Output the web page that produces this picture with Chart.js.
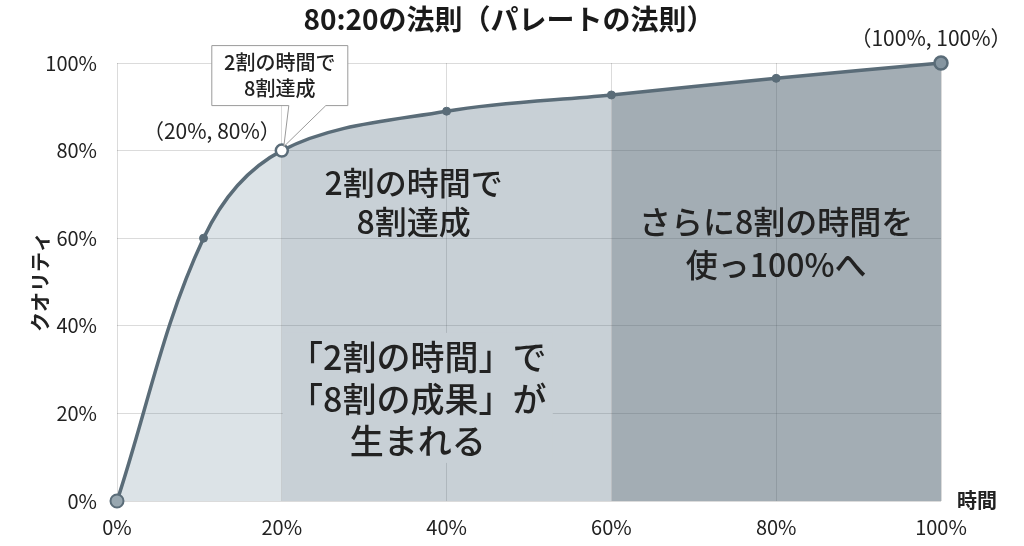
<!DOCTYPE html>
<html lang="ja">
<head>
<meta charset="utf-8">
<script src="https://cdn.jsdelivr.net/npm/chart.js@4.4.1/dist/chart.umd.min.js"></script>
<style>
html,body{margin:0;padding:0;background:#fff}
#wrap{width:1024px;height:546px}
</style>
</head>
<body>
<div id="wrap"><canvas id="pareto_chart"></canvas></div>
<script>
// data (x = 時間 %, y = クオリティ %)
const timeValues=[0,10.5,20,40,60,80,100]
const qualityValues=[0,60,80,89,92.7,96.5,100]
const tickValues=[0,20,40,60,80,100]

const titleText='80:20の法則（パレートの法則）'
const yTitle='クオリティ'
const xTitle='時間'
const calloutLines=['2割の時間で','8割達成']
const label20='（20%, 80%）'
const label100='（100%, 100%）'
const midLines=['2割の時間で','8割達成']
const rightLines=['さらに8割の時間を','使っ100%へ']
const bottomLines=['「2割の時間」で','「8割の成果」が','生まれる']

const FONT='"Noto Sans CJK JP","Noto Sans",sans-serif'
const lineColor='#5a6c78'

function segColor(x){
  if(x<20) return 'rgba(80,115,135,0.2)'
  if(x<60) return 'rgba(72,98,118,0.3)'
  return 'rgba(71,91,105,0.5)'
}

const textPlugin={
  id:'texts',
  afterDatasetsDraw(chart){
    const {ctx,chartArea,scales:{x,y}}=chart
    ctx.save()
    ctx.textAlign='center'
    ctx.textBaseline='middle'

    // title
    ctx.fillStyle='#1a1a1a'
    ctx.font='bold 28px '+FONT
    ctx.fillText(titleText,509,19)

    // big texts inside the areas
    ctx.fillStyle='#222'
    ctx.font='500 32px '+FONT
    midLines.forEach((t,i)=>ctx.fillText(t,x.getPixelForValue(36),y.getPixelForValue(72.6)+i*39))
    rightLines.forEach((t,i)=>ctx.fillText(t,x.getPixelForValue(80),y.getPixelForValue(63.7)+i*43))

    // patch behind the lower text hides the grid like in the picture
    const bx=x.getPixelForValue(36.5)
    const by=y.getPixelForValue(32.9)
    ctx.fillStyle='rgb(200,208,214)'
    ctx.fillRect(bx-135,by-24,270,130)
    ctx.fillStyle='#222'
    ctx.font='500 34px '+FONT
    bottomLines.forEach((t,i)=>ctx.fillText(t,bx,by+i*42))

    // callout box at (20%,80%)
    const px=x.getPixelForValue(timeValues[2])
    const py=y.getPixelForValue(qualityValues[2])
    const bl=px-70,br=px+66,bt=py-105,bb=py-45
    ctx.beginPath()
    ctx.moveTo(bl,bt)
    ctx.lineTo(br,bt)
    ctx.lineTo(br,bb)
    ctx.lineTo(px+44,bb)
    ctx.lineTo(px+2,py-4)
    ctx.lineTo(px+7,bb)
    ctx.lineTo(bl,bb)
    ctx.closePath()
    ctx.fillStyle='#fff'
    ctx.fill()
    ctx.strokeStyle='#9a9a9a'
    ctx.lineWidth=1
    ctx.stroke()
    ctx.fillStyle='#222'
    ctx.font='500 20px '+FONT
    calloutLines.forEach((t,i)=>ctx.fillText(t,px-2,bt+17+i*26))

    // point labels
    ctx.font='21px '+FONT
    ctx.textAlign='right'
    ctx.fillText(label20,px-1,py-20)
    ctx.textAlign='center'
    ctx.fillText(label100,x.getPixelForValue(100)-10,y.getPixelForValue(100)-25)

    // x axis title at the right end
    ctx.font='bold 20px '+FONT
    ctx.textAlign='left'
    ctx.fillText(xTitle,chartArea.right+16,chartArea.bottom-1)
    ctx.restore()
  }
}

let pareto_chart=new Chart('pareto_chart',{
  type:'line',
  data:{
    datasets:[{
      data:timeValues.map((t,i)=>({x:t,y:qualityValues[i]})),
      borderColor:lineColor,
      borderWidth:3.5,
      tension:0.35,
      fill:'origin',
      backgroundColor:'rgba(80,115,135,0.2)',
      segment:{backgroundColor:ctx=>segColor(ctx.p0.parsed.x)},
      pointRadius:[6.5,4,6,4,4,4,6.5],
      pointBackgroundColor:['#98a7b0',lineColor,'#ffffff',lineColor,lineColor,lineColor,'#8595a0'],
      pointBorderColor:lineColor,
      pointBorderWidth:[2,1,2.5,1,1,1,2.5],
      clip:false
    }]
  },
  options:{
    responsive:true,
    maintainAspectRatio:false,
    animation:false,
    layout:{padding:{left:20,right:83,top:63,bottom:10}},
    plugins:{
      legend:{display:false},
      tooltip:{enabled:false},
      title:{display:false}
    },
    scales:{
      x:{
        type:'linear',
        min:0,max:100,
        afterBuildTicks:s=>{s.ticks=tickValues.map(v=>({value:v}))},
        afterFit:s=>{s.height=35},
        grid:{color:'rgba(0,0,0,0.14)',drawTicks:false},
        border:{display:false},
        ticks:{padding:14,color:'#222',font:{family:FONT,size:20},callback:v=>v+'%'}
      },
      y:{
        min:0,max:100,
        afterBuildTicks:s=>{s.ticks=tickValues.map(v=>({value:v}))},
        afterFit:s=>{s.width=97},
        grid:{color:'rgba(0,0,0,0.14)',drawTicks:false},
        border:{display:false},
        ticks:{padding:20,color:'#222',font:{family:FONT,size:20},callback:v=>v+'%'},
        title:{display:true,text:yTitle,color:'#222',font:{family:FONT,size:20,weight:'bold'},padding:{top:8,bottom:0}}
      }
    }
  },
  plugins:[textPlugin]
})
</script>
</body>
</html>
